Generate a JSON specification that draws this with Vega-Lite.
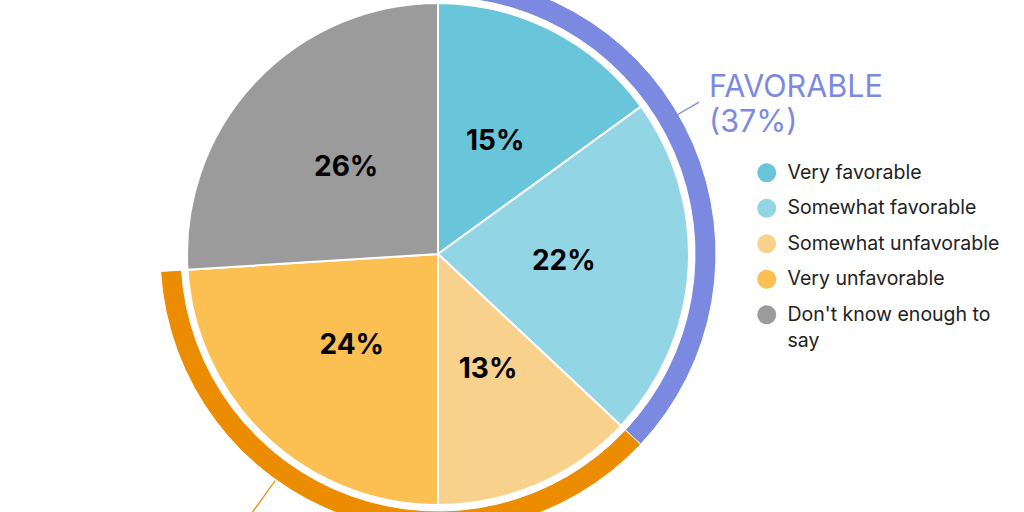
{
  "$schema": "https://vega.github.io/schema/vega-lite/v6.json",
  "width": 876,
  "height": 508,
  "autosize": {"type": "none"},
  "padding": {"left": 0, "top": 0, "right": 148, "bottom": 4},
  "background": "white",
  "config": {
    "view": {"stroke": null},
    "font": "Inter",
    "style": {"guide-label": {"lineHeight": 26}}
  },
  "datasets": {
    "slices": [
      {"answer": "Very favorable", "pct": 15, "label": "15%", "idx": 1},
      {"answer": "Somewhat favorable", "pct": 22, "label": "22%", "idx": 2},
      {"answer": "Somewhat unfavorable", "pct": 13, "label": "13%", "idx": 3},
      {"answer": "Very unfavorable", "pct": 24, "label": "24%", "idx": 4},
      {"answer": "Don't know enough to say", "pct": 26, "label": "26%", "idx": 5}
    ],
    "groups": [
      {"group": "FAVORABLE", "start": 0, "end": 37, "text": ["FAVORABLE", "(37%)"]},
      {"group": "UNFAVORABLE", "start": 37, "end": 74, "text": ["UNFAVORABLE", "(37%)"]}
    ]
  },
  "layer": [
    {
      "data": {"name": "groups"},
      "mark": {"type": "arc", "stroke": "white", "strokeWidth": 1},
      "encoding": {
        "theta": {"field": "start", "type": "quantitative", "scale": {"domain": [0, 100]}},
        "theta2": {"field": "end"},
        "radius": {"value": 278},
        "radius2": {"value": 257},
        "fill": {
          "field": "group",
          "type": "nominal",
          "scale": {"domain": ["FAVORABLE", "UNFAVORABLE"], "range": ["#7b8ae0", "#ec8c00"]},
          "legend": null
        }
      }
    },
    {
      "data": {"name": "groups"},
      "transform": [{"filter": "datum.group === 'FAVORABLE'"}],
      "mark": {"type": "arc", "fill": "#7b8ae0", "thetaOffset": 1.0416, "theta2Offset": 1.0458},
      "encoding": {
        "theta": {"field": "start", "type": "quantitative", "scale": {"domain": [0, 100]}},
        "theta2": {"field": "start"},
        "radius": {"value": 302},
        "radius2": {"value": 277}
      }
    },
    {
      "data": {"name": "groups"},
      "transform": [{"filter": "datum.group === 'UNFAVORABLE'"}],
      "mark": {"type": "arc", "fill": "#ec8c00", "thetaOffset": 1.4378, "theta2Offset": 1.4420},
      "encoding": {
        "theta": {"field": "start", "type": "quantitative", "scale": {"domain": [0, 100]}},
        "theta2": {"field": "start"},
        "radius": {"value": 330},
        "radius2": {"value": 279}
      }
    },
    {
      "data": {"name": "groups"},
      "transform": [{"filter": "datum.group === 'FAVORABLE'"}],
      "mark": {"type": "text", "align": "left", "baseline": "alphabetic", "fontSize": 30.5, "lineHeight": 35, "color": "#7b8ae0", "thetaOffset": 1.047},
      "encoding": {
        "theta": {"field": "start", "type": "quantitative", "scale": {"domain": [0, 100]}},
        "radius": {"value": 313},
        "text": {"field": "text"}
      }
    },
    {
      "data": {"name": "slices"},
      "mark": {"type": "arc", "outerRadius": 251, "stroke": "white", "strokeWidth": 2},
      "encoding": {
        "theta": {"field": "pct", "type": "quantitative", "stack": true},
        "order": {"field": "idx", "type": "quantitative"},
        "color": {
          "field": "answer",
          "type": "nominal",
          "sort": null,
          "scale": {
            "domain": ["Very favorable", "Somewhat favorable", "Somewhat unfavorable", "Very unfavorable", "Don't know enough to say"],
            "range": ["#69c5da", "#92d6e6", "#f8d28c", "#fbbf52", "#9b9b9b"]
          },
          "legend": {
            "orient": "none",
            "legendX": 757,
            "legendY": 163,
            "title": null,
            "symbolType": "circle",
            "symbolSize": 361,
            "symbolStrokeWidth": 0,
            "labelFont": "Inter",
            "labelFontSize": 19.5,
            "labelColor": "#222222",
            "labelOffset": 11,
            "labelLimit": 300,
            "rowPadding": 14.5,
            "labelExpr": "datum.value === \"Don't know enough to say\" ? [\"Don't know enough to\", \"say\"] : datum.label"
          }
        }
      }
    },
    {
      "data": {"name": "slices"},
      "mark": {"type": "text", "fontSize": 28, "fontWeight": "bold", "color": "black", "baseline": "middle", "align": "center"},
      "encoding": {
        "theta": {"field": "pct", "type": "quantitative", "stack": true},
        "order": {"field": "idx", "type": "quantitative"},
        "radius": {"value": 126},
        "text": {"field": "label"}
      }
    }
  ]
}
